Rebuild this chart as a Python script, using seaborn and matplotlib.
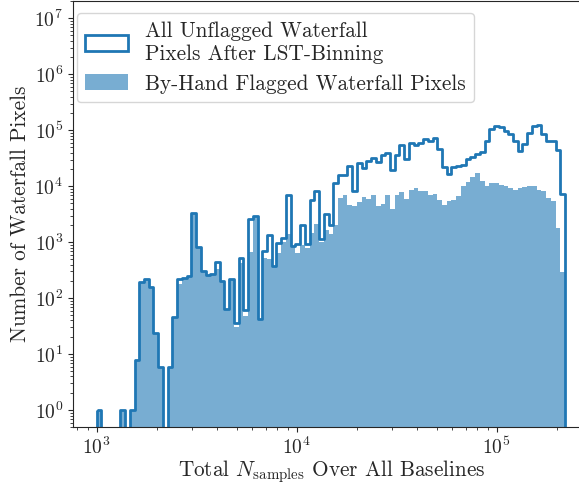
import numpy as np
import pandas as pd
import matplotlib
matplotlib.use("Agg")
import matplotlib.pyplot as plt
from matplotlib.patches import Patch
import seaborn as sns

# Log-spaced bin range (log10 of Total N_samples)
log_bin_lo = 3.0
log_bin_hi = 5.3415
n_bins = 99

# Counts per bin (all unflagged pixels after LST-binning)
unflagged_counts = [
    1, 0, 0, 0, 0, 1, 0, 1, 8, 195,
    224, 158, 24, 6, 0, 6, 47, 219, 229, 245,
    3390, 832, 302, 263, 269, 437, 204, 65, 219, 36,
    525, 62, 2570, 2950, 42, 692, 1350, 380, 955, 1200,
    6920, 851, 912, 2040, 912, 5620, 8130, 1120, 3240, 2040,
    11500, 15800, 15800, 23400, 8130, 25700, 21400, 28800, 31600, 27500,
    36300, 38900, 19500, 36300, 53700, 30200, 60300, 55000, 60300, 69200,
    63100, 72400, 46800, 22400, 16600, 21900, 22900, 24000, 30200, 33100,
    38000, 41700, 63100, 105000, 120000, 115000, 97700, 85100, 63100, 42700,
    56200, 91200, 120000, 123000, 87100, 64600, 63100, 44700, 7410,
]

# Counts per bin for by-hand flagged pixels
flagged_counts = [
    1, 0, 0, 0, 0, 1, 0, 1, 8, 195,
    224, 158, 24, 6, 0, 6, 47, 182, 229, 240,
    3390, 832, 302, 263, 269, 339, 204, 65, 219, 31,
    417, 49, 676, 2820, 42, 525, 501, 380, 646, 1020,
    1410, 832, 646, 891, 794, 1480, 2090, 1000, 1660, 1380,
    2040, 6170, 7080, 4570, 4470, 5130, 6310, 5890, 7080, 4470,
    4900, 7080, 3980, 7080, 7760, 5890, 8510, 9120, 8130, 8130,
    6920, 7410, 5750, 4570, 5370, 5620, 6610, 10000, 12000, 14500,
    17000, 12300, 10000, 11200, 11200, 10700, 10000, 9120, 8510, 9120,
    9550, 10000, 10000, 8510, 8130, 6170, 5370, 1820, 295,
]

label_unflagged = "All Unflagged Waterfall\nPixels After LST-Binning"
label_flagged = "By-Hand Flagged Waterfall Pixels"
xlabel = r"Total $N_\mathrm{samples}$ Over All Baselines"
ylabel = "Number of Waterfall Pixels"

log_edges = np.linspace(log_bin_lo, log_bin_hi, n_bins + 1)
centers = 10 ** ((log_edges[:-1] + log_edges[1:]) / 2)

df = pd.DataFrame({
    "nsamples": centers,
    "unflagged": unflagged_counts,
    "flagged": flagged_counts,
})

sns.set_style("ticks")
plt.rcParams.update({
    "font.family": "serif",
    "font.serif": ["cmr10"],
    "mathtext.fontset": "cm",
    "axes.formatter.use_mathtext": True,
    "axes.unicode_minus": False,
    "font.size": 14,
})

color = "#1f77b4"

fig = plt.figure(figsize=(5.79, 4.86), dpi=100)
ax = fig.add_axes([73 / 579, 59 / 486, 517 / 579, 426 / 486])

sns.histplot(data=df, x="nsamples", weights="flagged", bins=n_bins,
             binrange=(log_bin_lo, log_bin_hi), log_scale=(True, False),
             color=color, alpha=0.6, element="bars", fill=True,
             edgecolor=color, linewidth=0, ax=ax)
n_before = len(ax.collections)
sns.histplot(data=df, x="nsamples", weights="unflagged", bins=n_bins,
             binrange=(log_bin_lo, log_bin_hi), log_scale=(True, False),
             color=color, element="step", fill=True, ax=ax)
for coll in ax.collections[n_before:]:
    coll.set_facecolor("none")
    coll.set_edgecolor(color)
    coll.set_linewidth(2)
    coll.set_alpha(1)

ax.set_yscale("log")
ax.set_xlim(761, 761 * 10 ** (517 / 200))
ax.set_ylim(0.5, 2.04e7)
ax.set_xlabel(xlabel, fontsize=15.3, labelpad=0)
ax.set_ylabel(ylabel, fontsize=15.3, labelpad=3)
ax.tick_params(labelsize=14)

handles = [
    Patch(facecolor="white", edgecolor=color, linewidth=2, label=label_unflagged),
    Patch(facecolor=color, alpha=0.6, edgecolor="none", label=label_flagged),
]
ax.legend(handles=handles, loc="upper left", bbox_to_anchor=(0.0077, 0.972),
          borderaxespad=0, fontsize=15.3, frameon=True, handleheight=0.8,
          labelspacing=0.5, fancybox=True, edgecolor="0.8", framealpha=0.8)

fig.savefig("out.png", dpi=100)
